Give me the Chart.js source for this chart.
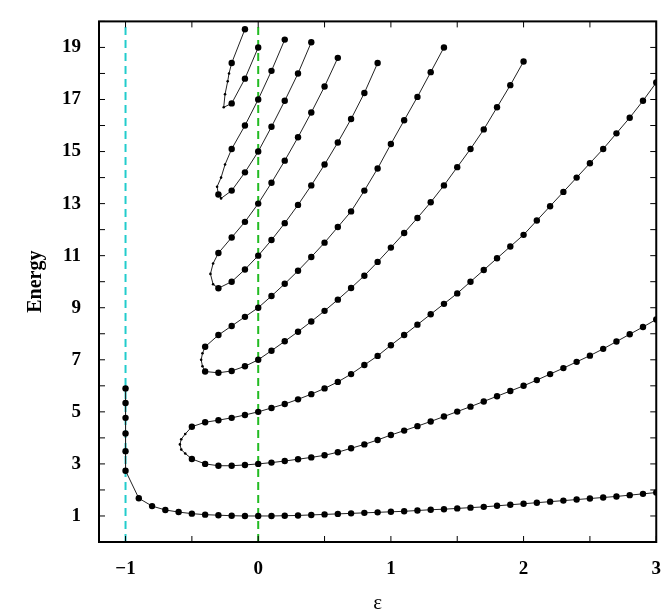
<!DOCTYPE html>
<html><head><meta charset="utf-8">
<script src="https://cdn.jsdelivr.net/npm/chart.js@4/dist/chart.umd.min.js"></script>
<style>html,body{margin:0;padding:0;background:#fff}#w{width:669px;height:616px}</style>
</head><body><div id="w"><canvas id="c"></canvas></div>
<script>
const xTicks=[-1,0,1,2,3];
const yTicks=[1,3,5,7,9,11,13,15,17,19];
const curve0=[[-1,5.9],[-1,5.34],[-1,4.77],[-1,4.17],[-1,3.49],[-1,2.74],[-0.9,1.68],[-0.8,1.38],[-0.7,1.23],[-0.6,1.15],[-0.5,1.09],[-0.4,1.05],[-0.3,1.03],[-0.2,1.01],[-0.1,1.0],[0,1.0],[0.1,1.0],[0.2,1.01],[0.3,1.02],[0.4,1.04],[0.5,1.06],[0.6,1.08],[0.7,1.10],[0.8,1.12],[0.9,1.14],[1.0,1.16],[1.1,1.18],[1.2,1.21],[1.3,1.24],[1.4,1.26],[1.5,1.29],[1.6,1.32],[1.7,1.35],[1.8,1.39],[1.9,1.43],[2.0,1.47],[2.1,1.51],[2.2,1.55],[2.3,1.59],[2.4,1.63],[2.5,1.67],[2.6,1.71],[2.7,1.75],[2.8,1.80],[2.9,1.85],[3.0,1.9]];
const curve1=[[3.0,17.65],[2.9,16.95],[2.8,16.3],[2.7,15.7],[2.6,15.1],[2.5,14.55],[2.4,14.0],[2.3,13.45],[2.2,12.9],[2.1,12.35],[2.0,11.8],[1.9,11.35],[1.8,10.9],[1.7,10.45],[1.6,10.0],[1.5,9.55],[1.4,9.15],[1.3,8.75],[1.2,8.35],[1.1,7.95],[1.0,7.56],[0.9,7.15],[0.8,6.8],[0.7,6.45],[0.6,6.15],[0.5,5.9],[0.4,5.68],[0.3,5.48],[0.2,5.3],[0.1,5.15],[0,5.0],[-0.1,4.88],[-0.2,4.77],[-0.3,4.68],[-0.4,4.6],[-0.5,4.43],[-0.55,4.15],[-0.58,3.95],[-0.59,3.75],[-0.58,3.55],[-0.55,3.4],[-0.5,3.19],[-0.4,3.0],[-0.3,2.93],[-0.2,2.93],[-0.1,2.96],[0,3.0],[0.1,3.05],[0.2,3.11],[0.3,3.18],[0.4,3.25],[0.5,3.33],[0.6,3.45],[0.7,3.6],[0.8,3.75],[0.9,3.92],[1.0,4.11],[1.1,4.28],[1.2,4.45],[1.3,4.63],[1.4,4.82],[1.5,5.01],[1.6,5.2],[1.7,5.4],[1.8,5.6],[1.9,5.8],[2.0,6.0],[2.1,6.22],[2.2,6.45],[2.3,6.68],[2.4,6.92],[2.5,7.16],[2.6,7.42],[2.7,7.7],[2.8,7.98],[2.9,8.26],[3.0,8.55]];
const curve2=[[1.4,19.0],[1.3,18.05],[1.2,17.1],[1.1,16.2],[1.0,15.29],[0.9,14.35],[0.8,13.5],[0.7,12.7],[0.6,12.1],[0.5,11.5],[0.4,10.95],[0.3,10.42],[0.2,9.92],[0.1,9.45],[0,9.0],[-0.1,8.65],[-0.2,8.3],[-0.3,7.95],[-0.4,7.5],[-0.42,7.25],[-0.43,7.0],[-0.42,6.75],[-0.4,6.55],[-0.3,6.5],[-0.2,6.57],[-0.1,6.75],[0,7.0],[0.1,7.35],[0.2,7.71],[0.3,8.08],[0.4,8.47],[0.5,8.88],[0.6,9.31],[0.7,9.76],[0.8,10.23],[0.9,10.76],[1.0,11.31],[1.1,11.87],[1.2,12.45],[1.3,13.05],[1.4,13.7],[1.5,14.4],[1.6,15.1],[1.7,15.85],[1.8,16.7],[1.9,17.55],[2.0,18.46]];
const curve3=[[0.6,18.6],[0.5,17.5],[0.4,16.5],[0.3,15.55],[0.2,14.65],[0.1,13.8],[0,13.0],[-0.1,12.3],[-0.2,11.7],[-0.3,11.1],[-0.34,10.7],[-0.36,10.3],[-0.34,9.9],[-0.3,9.75],[-0.2,10.0],[-0.1,10.47],[0,11.0],[0.1,11.6],[0.2,12.25],[0.3,12.95],[0.4,13.7],[0.5,14.5],[0.6,15.35],[0.7,16.25],[0.8,17.25],[0.9,18.4]];
const curve4=[[0.2,19.3],[0.1,18.1],[0,17.0],[-0.1,16.0],[-0.2,15.1],[-0.25,14.5],[-0.28,14.0],[-0.31,13.65],[-0.3,13.35],[-0.28,13.2],[-0.2,13.5],[-0.1,14.2],[0,15.0],[0.1,15.95],[0.2,16.95],[0.3,18.0],[0.4,19.2]];
const curve5=[[-0.1,19.7],[-0.2,18.4],[-0.22,18.0],[-0.23,17.7],[-0.25,17.2],[-0.26,16.7],[-0.2,16.85],[-0.1,17.8],[0,19.0]];
const curves=[curve0,curve1,curve2,curve3,curve4,curve5];
const onGrid=v=>Math.abs(v*10-Math.round(v*10))<0.01;
const datasets=curves.map(c=>({data:c.map(p=>({x:p[0],y:p[1]})),showLine:true,borderColor:'#222',borderWidth:1,backgroundColor:'#000',pointBorderWidth:0,
 pointRadius:ctx=>{const r=ctx.raw;return r&&onGrid(r.x)?3.2:1.3;}}));
datasets.push({data:[{x:-1,y:0},{x:-1,y:20}],showLine:true,borderColor:'#22cccc',borderWidth:2,borderDash:[8,5],pointRadius:0});
datasets.push({data:[{x:0,y:0},{x:0,y:20}],showLine:true,borderColor:'#22bb22',borderWidth:2,borderDash:[8,5],pointRadius:0});
const frame={id:'frame',afterDraw(ch){const a=ch.chartArea,g=ch.ctx;g.save();g.strokeStyle='#000';g.lineWidth=2;g.strokeRect(a.left,a.top,a.right-a.left,a.bottom-a.top);
 g.lineWidth=1;const xs=ch.scales.x,ys=ch.scales.y;
 for(let v=-1;v<=3;v+=0.5){const px=xs.getPixelForValue(v);g.beginPath();g.moveTo(px,a.bottom);g.lineTo(px,a.bottom-6);g.moveTo(px,a.top);g.lineTo(px,a.top+6);g.stroke();}
 for(let v=0;v<=20;v+=1){const py=ys.getPixelForValue(v);g.beginPath();g.moveTo(a.left,py);g.lineTo(a.left+6,py);g.moveTo(a.right,py);g.lineTo(a.right-6,py);g.stroke();}
 g.restore();}};
const font={family:'Liberation Serif',size:19,weight:'bold'};
new Chart(document.getElementById('c'),{type:'scatter',data:{datasets},plugins:[frame],
options:{responsive:true,maintainAspectRatio:false,animation:false,layout:{padding:{top:4,right:9,left:20,bottom:0}},
plugins:{legend:{display:false},tooltip:{enabled:false}},
scales:{x:{type:'linear',min:-1.2,max:3,afterBuildTicks:s=>{s.ticks=xTicks.map(v=>({value:v}));},
 grid:{display:false},border:{display:false},ticks:{color:'#000',font,padding:8,callback:v=>v<0?'\u2212'+Math.abs(v):v},
 title:{display:true,text:'ε',color:'#000',font:{family:'Liberation Serif',size:21},padding:{top:2,bottom:0}}},
 y:{min:0,max:20,afterBuildTicks:s=>{s.ticks=yTicks.map(v=>({value:v}));},grid:{display:false},border:{display:false},
 ticks:{color:'#000',font,padding:10},title:{display:true,text:'Energy',color:'#000',font:{family:'Liberation Serif',size:20,weight:'bold'}}}}}});
</script></body></html>
